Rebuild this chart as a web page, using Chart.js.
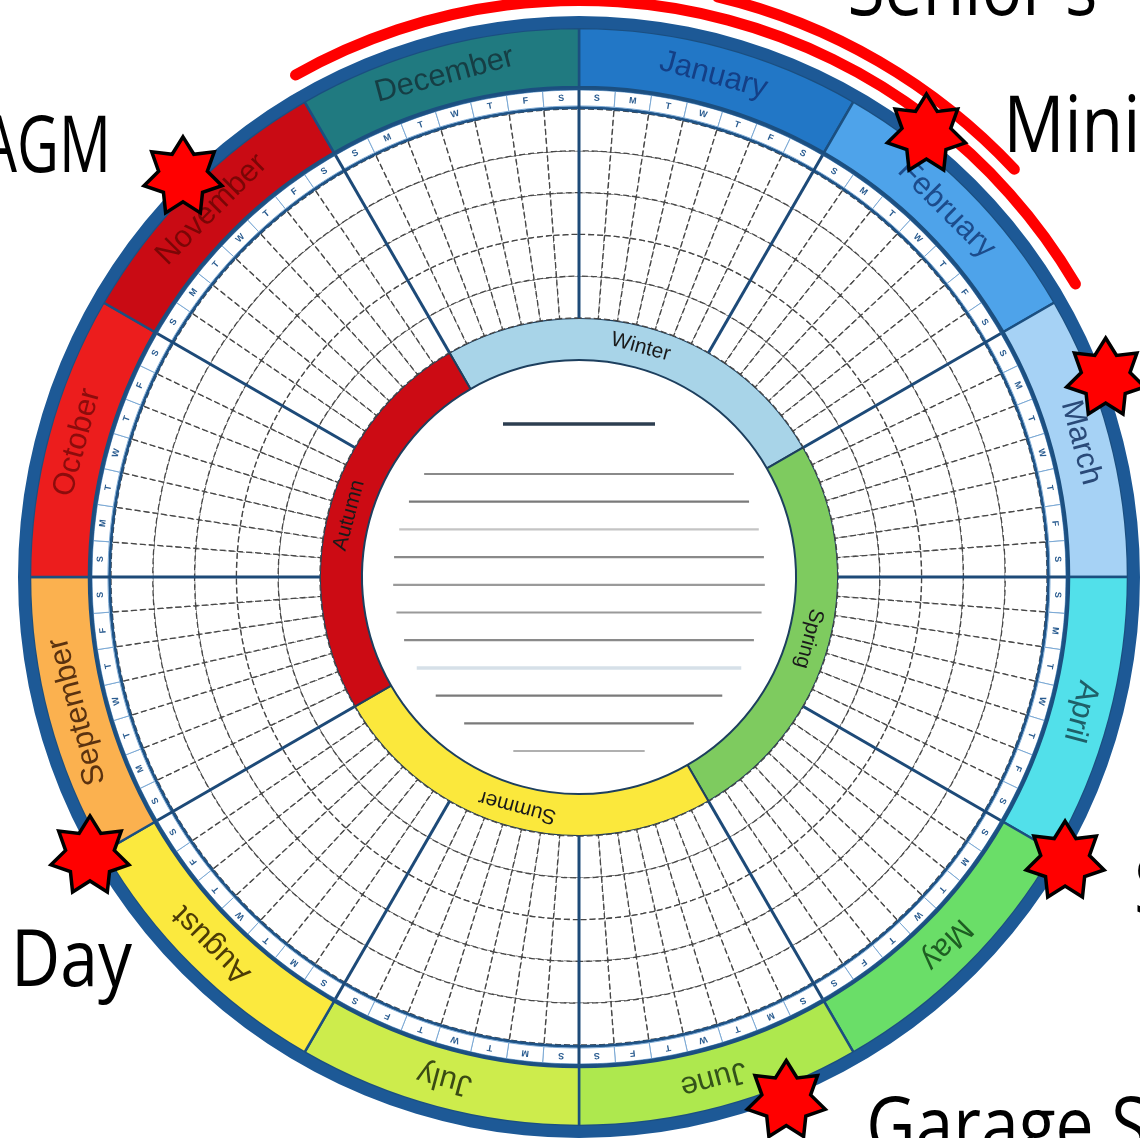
<!DOCTYPE html>
<html>
<head>
<meta charset="utf-8">
<title>Year planner wheel</title>
<script src="https://cdn.jsdelivr.net/npm/chart.js@4.4.1/dist/chart.umd.min.js"></script>
<style>
  html, body { margin: 0; padding: 0; background: #fff; overflow: hidden; }
  body { width: 1140px; height: 1138px; position: relative; }
  #wrap { position: absolute; left: -121px; top: -123px; width: 1400px; height: 1400px; }
</style>
</head>
<body>
<div id="wrap"><canvas id="wheel"></canvas></div>
<script>
// months, clockwise from the top
const months = ["January", "February", "March", "April", "May", "June",
  "July", "August", "September", "October", "November", "December"];
const monthColors = ["#2277c6", "#4ea3ea", "#a6d2f5", "#52e0ea", "#6ade68", "#aee84e",
  "#cdec4c", "#fbe93e", "#fbb14f", "#ec1d1d", "#c90b14", "#207a80"];
const monthTextColors = ["#143f86", "#1c4c8c", "#2a4a78", "#1f5f68", "#1e5e22", "#33521a",
  "#3a4a14", "#4d3c06", "#5a3210", "#8c0c0c", "#7a0606", "#163e44"];
const weekDays = ["S", "M", "T", "W", "T", "F", "S"];

// seasons, starting with December
const seasons = ["Winter", "Spring", "Summer", "Autumn"];
const seasonMonths = [3, 3, 3, 3];
const seasonColors = ["#a8d4e8", "#7ecb5f", "#fbe83c", "#cc0b14"];
const seasonStartMonth = 11;

const gridRows = 5;

// single-day events (month index, position inside the month)
const eventLabels = ["AGM", "Mini", "", "S", "Garage S", "Day"];
const eventMonth = [10, 1, 2, 4, 5, 8];
const eventFrac = [0.51, 0.27, 0.31, 0.01, 0.28, 0.01];

// period bands round the outside (outer first)
const spanLabels = ["Senior's", ""];
const spanStartMonth = [0, 11];
const spanStartFrac = [0.43, 0];
const spanLengthMonths = [1.15, 3];

// label placement relative to each star: dx, dy, align, squeeze (style, not data)
const eventLabelPos = [[-72, -5, "right", 0.74], [77, 18, "left", 0.87], [0, 0, "left", 0.87],
  [69, 52, "left", 0.87], [80, 53, "left", 0.87], [-79, 130, "left", 0.87]];

const degPerMonth = 360 / months.length;
const cols = months.length * weekDays.length;
const ones = (n) => Array(n).fill(1);

const spacer = (w) => ({ data: [1], weight: w, backgroundColor: "rgba(0,0,0,0)", borderWidth: 0 });
const solidRing = (w, color) => ({ data: [1], weight: w, backgroundColor: color, borderWidth: 0 });

const spanSets = spanLabels.map((lab, i) => ({
  label: lab,
  data: [1],
  weight: 11,
  rotation: (spanStartMonth[i] + spanStartFrac[i]) * degPerMonth,
  circumference: spanLengthMonths[i] * degPerMonth,
  backgroundColor: "#ff0000",
  borderWidth: 0,
  borderRadius: 6,
}));

const gridSets = [];
for (let i = 0; i < gridRows; i++) {
  gridSets.push({
    data: ones(cols),
    weight: 209 / gridRows,
    backgroundColor: "#ffffff",
    borderColor: "#474747",
    borderWidth: 1.3,
    borderDash: [6, 3],
  });
}

const datasets = [
  spanSets[0],
  spacer(9),
  spanSets[1],
  spacer(10),
  solidRing(12, "#1d5996"),
  { data: ones(months.length), weight: 59, backgroundColor: monthColors, borderColor: "#1b4f80", borderWidth: 2.5 },
  solidRing(3, "#1f5386"),
  { data: ones(cols), weight: 16, backgroundColor: "#ffffff", borderColor: "#7aa8d4", borderWidth: 1 },
  solidRing(3, "#1f5386"),
  ...gridSets,
  { data: seasonMonths, weight: 42, rotation: seasonStartMonth * degPerMonth,
    backgroundColor: seasonColors, borderColor: "#1d3f5e", borderWidth: 2 },
];
const IDX_MONTH = 5, IDX_DAY = 7, IDX_GRID = 9, IDX_SEASON = 9 + gridRows;

function textOnRing(ctx, text, cx, cy, r, a, font, color) {
  ctx.save();
  ctx.translate(cx + Math.cos(a) * r, cy + Math.sin(a) * r);
  ctx.rotate(a + Math.PI / 2);
  ctx.font = font;
  ctx.fillStyle = color;
  ctx.textAlign = "center";
  ctx.textBaseline = "middle";
  ctx.fillText(text, 0, 0);
  ctx.restore();
}

function drawStar(ctx, x, y, R, r, n) {
  ctx.beginPath();
  for (let i = 0; i < n * 2; i++) {
    const a = -Math.PI / 2 + (i * Math.PI) / n;
    const rad = i % 2 === 0 ? R : r;
    ctx.lineTo(x + Math.cos(a) * rad, y + Math.sin(a) * rad);
  }
  ctx.closePath();
  ctx.fillStyle = "#ff0000";
  ctx.fill();
  ctx.lineWidth = 3.5;
  ctx.strokeStyle = "#000";
  ctx.lineJoin = "miter";
  ctx.stroke();
}

// narrow-ish black caption, squeezed to look like the original face
function caption(ctx, text, x, y, align, squeeze) {
  ctx.save();
  ctx.translate(x, y);
  ctx.scale(squeeze, 1);
  ctx.font = "78px 'Open Sans', sans-serif";
  ctx.fillStyle = "#000";
  ctx.textAlign = align;
  ctx.textBaseline = "alphabetic";
  ctx.fillText(text, 0, 0);
  ctx.restore();
}

const wheelDecor = {
  id: "wheelDecor",
  afterDatasetsDraw(chart) {
    const ctx = chart.ctx;
    const monthArcs = chart.getDatasetMeta(IDX_MONTH).data;
    const dayArcs = chart.getDatasetMeta(IDX_DAY).data;
    const seasonArcs = chart.getDatasetMeta(IDX_SEASON).data;
    const cx = monthArcs[0].x, cy = monthArcs[0].y;

    // thick month dividers through grid and day ring
    ctx.save();
    ctx.strokeStyle = "#1d4a78";
    ctx.lineWidth = 3;
    monthArcs.forEach((arc) => {
      const a = arc.startAngle;
      const r1 = seasonArcs[0].outerRadius, r2 = dayArcs[0].outerRadius;
      ctx.beginPath();
      ctx.moveTo(cx + Math.cos(a) * r1, cy + Math.sin(a) * r1);
      ctx.lineTo(cx + Math.cos(a) * r2, cy + Math.sin(a) * r2);
      ctx.stroke();
    });
    ctx.restore();

    // month names
    monthArcs.forEach((arc, i) => {
      const a = (arc.startAngle + arc.endAngle) / 2;
      const r = (arc.innerRadius + arc.outerRadius) / 2;
      textOnRing(ctx, months[i], cx, cy, r, a, "31px 'Liberation Sans', Arial, sans-serif", monthTextColors[i]);
    });

    // weekday letters
    dayArcs.forEach((arc, i) => {
      const a = (arc.startAngle + arc.endAngle) / 2;
      const r = (arc.innerRadius + arc.outerRadius) / 2;
      textOnRing(ctx, weekDays[i % weekDays.length], cx, cy, r, a, "bold 9px 'Liberation Sans', Arial, sans-serif", "#2a5c90");
    });

    // season names
    seasonArcs.forEach((arc, i) => {
      const a = (arc.startAngle + arc.endAngle) / 2;
      const r = (arc.innerRadius + arc.outerRadius) / 2;
      textOnRing(ctx, seasons[i], cx, cy, r, a, "21px 'Liberation Sans', Arial, sans-serif", "#1a1a1a");
    });

    // ruled lines in the centre
    const rc = seasonArcs[0].innerRadius * 0.857;
    ctx.save();
    ctx.lineCap = "butt";
    ctx.strokeStyle = "#2d3e50";
    ctx.lineWidth = 3.5;
    ctx.beginPath();
    ctx.moveTo(cx - 76, cy - 153);
    ctx.lineTo(cx + 76, cy - 153);
    ctx.stroke();
    const ruleColors = ["#8a8a8a", "#7a7a7a", "#c4c4c4", "#8a8a8a", "#9a9a9a", "#9a9a9a",
      "#8a8a8a", "#d6e0e8", "#7a7a7a", "#7a7a7a", "#b0b0b0"];
    for (let i = 0; i < ruleColors.length; i++) {
      const dy = -103 + i * 27.7;
      const hw = Math.sqrt(Math.max(rc * rc - dy * dy, 0));
      ctx.strokeStyle = ruleColors[i];
      ctx.lineWidth = i === 7 ? 3.5 : 2.2;
      ctx.beginPath();
      ctx.moveTo(cx - hw, cy + dy);
      ctx.lineTo(cx + hw, cy + dy);
      ctx.stroke();
    }
    ctx.restore();
  },
  afterDraw(chart) {
    const ctx = chart.ctx;
    const monthArcs = chart.getDatasetMeta(IDX_MONTH).data;
    const cx = monthArcs[0].x, cy = monthArcs[0].y;
    const starR = monthArcs[0].outerRadius + 14;

    // period band label
    const senior = chart.getDatasetMeta(0).data[0];
    const sx = cx + Math.cos(senior.startAngle) * senior.outerRadius;
    const sy = cy + Math.sin(senior.startAngle) * senior.outerRadius;
    caption(ctx, spanLabels[0], sx + 134, sy + 25, "left", 0.87);

    eventLabels.forEach((lab, i) => {
      const arc = monthArcs[eventMonth[i]];
      const a = arc.startAngle + eventFrac[i] * (arc.endAngle - arc.startAngle);
      const x = cx + Math.cos(a) * starR, y = cy + Math.sin(a) * starR;
      drawStar(ctx, x, y, 40, 25, 7);
      if (lab) {
        const p = eventLabelPos[i];
        caption(ctx, lab, x + p[0], y + p[1], p[2], p[3]);
      }
    });
  },
};

new Chart(document.getElementById("wheel"), {
  type: "doughnut",
  data: { labels: months, datasets: datasets },
  options: {
    responsive: true,
    maintainAspectRatio: false,
    animation: false,
    events: [],
    radius: 602,
    cutout: (217 / 602 * 100).toFixed(2) + "%",
    layout: { padding: 0 },
    plugins: { legend: { display: false }, tooltip: { enabled: false } },
  },
  plugins: [wheelDecor],
});
</script>
</body>
</html>
